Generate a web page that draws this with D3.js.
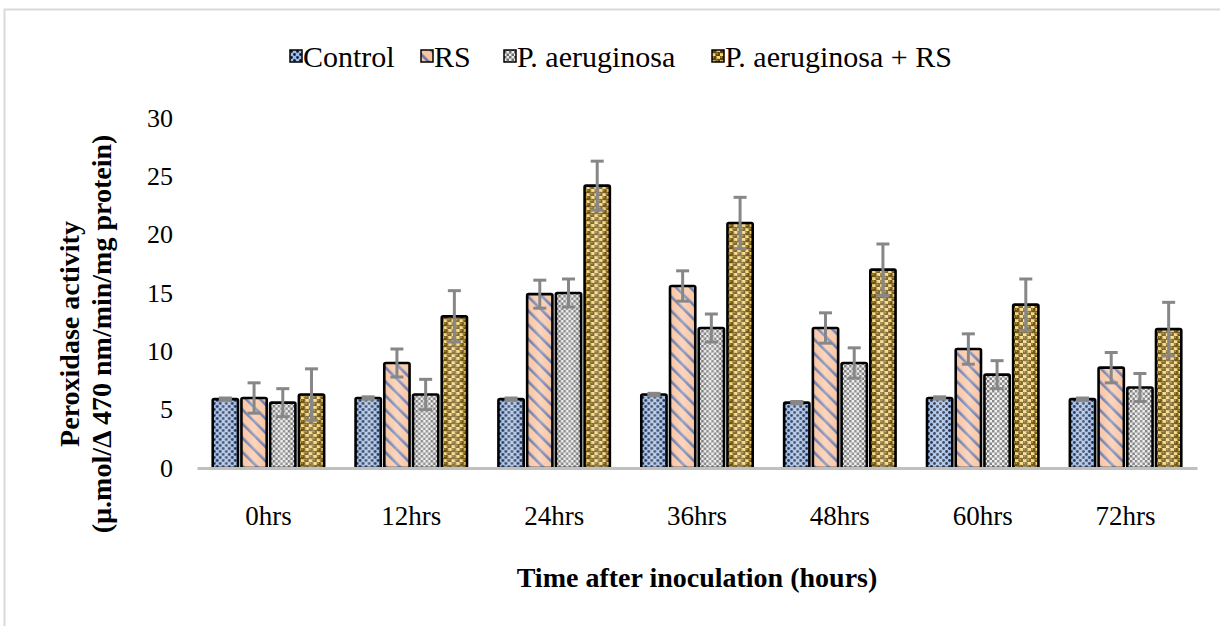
<!DOCTYPE html>
<html>
<head>
<meta charset="utf-8">
<script src="https://cdn.jsdelivr.net/npm/d3@7"></script>
<style>
  body { margin: 0; background: #fff; }
  svg text { font-family: "Liberation Serif", "Times New Roman", serif; fill: #000; }
</style>
</head>
<body>
<svg id="chart" width="1220" height="626"></svg>
<script>
// --- data ---
const categories = ["0hrs", "12hrs", "24hrs", "36hrs", "48hrs", "60hrs", "72hrs"];
const seriesNames = ["Control", "RS", "P. aeruginosa", "P. aeruginosa + RS"];

const control    = [5.9, 6.0, 5.9, 6.3, 5.6, 6.0, 5.9];
const rs         = [6.0, 9.0, 14.9, 15.6, 12.0, 10.2, 8.6];
const pa         = [5.6, 6.3, 15.0, 12.0, 9.0, 8.0, 6.9];
const paRs       = [6.3, 13.0, 24.2, 21.0, 17.0, 14.0, 11.9];

const controlErr = [0.1, 0.1, 0.1, 0.1, 0.1, 0.1, 0.1];
const rsErr      = [1.3, 1.2, 1.2, 1.3, 1.3, 1.3, 1.3];
const paErr      = [1.2, 1.3, 1.2, 1.2, 1.3, 1.2, 1.2];
const paRsErr    = [2.2, 2.2, 2.1, 2.2, 2.2, 2.2, 2.3];

const yTicks = [0, 5, 10, 15, 20, 25, 30];

const values = [control, rs, pa, paRs];
const errors = [controlErr, rsErr, paErr, paRsErr];
const patIds = ["pCtrl", "pRs", "pPa", "pPaRs"];
const serif = "Liberation Serif";

const svg = d3.select("#chart");
const defs = svg.append("defs");

// --- fill patterns ---
// control: light blue with dark dots
let p = defs.append("pattern").attr("id", "pCtrl").attr("patternUnits", "userSpaceOnUse")
  .attr("width", 6).attr("height", 6);
p.append("rect").attr("width", 6).attr("height", 6).attr("fill", "#9fbde9");
p.append("circle").attr("cx", 1.5).attr("cy", 1.5).attr("r", 1.4).attr("fill", "#15203a");
p.append("circle").attr("cx", 4.5).attr("cy", 4.5).attr("r", 1.4).attr("fill", "#15203a");

// RS: peach with blue-grey diagonal stripes
p = defs.append("pattern").attr("id", "pRs").attr("patternUnits", "userSpaceOnUse")
  .attr("width", 10).attr("height", 10).attr("patternTransform", "rotate(-45)");
p.append("rect").attr("width", 10).attr("height", 10).attr("fill", "#f8c4a2");
p.append("rect").attr("width", 2.6).attr("height", 10).attr("fill", "#6878ae");

// P. aeruginosa: grey checkerboard
p = defs.append("pattern").attr("id", "pPa").attr("patternUnits", "userSpaceOnUse")
  .attr("width", 5).attr("height", 5);
p.append("rect").attr("width", 5).attr("height", 5).attr("fill", "#ececec");
p.append("rect").attr("width", 2.5).attr("height", 2.5).attr("fill", "#6e6e6e");
p.append("rect").attr("x", 2.5).attr("y", 2.5).attr("width", 2.5).attr("height", 2.5).attr("fill", "#6e6e6e");

// P. aeruginosa + RS: gold with brown balls
p = defs.append("pattern").attr("id", "pPaRs").attr("patternUnits", "userSpaceOnUse")
  .attr("width", 8).attr("height", 7);
p.append("rect").attr("width", 8).attr("height", 7).attr("fill", "#f7d874");
[[2, 1.75], [6, 5.25]].forEach(c => {
  p.append("circle").attr("cx", c[0]).attr("cy", c[1]).attr("r", 2.6).attr("fill", "#5f4305");
  p.append("circle").attr("cx", c[0] - 0.7).attr("cy", c[1] - 0.7).attr("r", 0.9).attr("fill", "#b88f28");
});

// soft shine across each bar
const shine = defs.append("linearGradient").attr("id", "shine").attr("x1", 0).attr("x2", 1);
shine.append("stop").attr("offset", "0%").attr("stop-color", "#fff").attr("stop-opacity", 0);
shine.append("stop").attr("offset", "50%").attr("stop-color", "#fff").attr("stop-opacity", 0.3);
shine.append("stop").attr("offset", "100%").attr("stop-color", "#fff").attr("stop-opacity", 0);

// frame lines of the figure
svg.append("path").attr("d", "M4.5,626 V9.5 H1220").attr("fill", "none")
  .attr("stroke", "#d9d9d9").attr("stroke-width", 2);

// --- scales ---
const x0 = d3.scaleBand().domain(categories).range([197, 1197]).paddingInner(0.22).paddingOuter(0.11);
const x1 = d3.scaleBand().domain(d3.range(4)).range([0, x0.bandwidth()]).paddingInner(0.12);
const y = d3.scaleLinear().domain([0, 30]).range([468, 118]);

// y tick labels (no axis line)
const yAx = svg.append("g").attr("transform", "translate(173,0)")
  .call(d3.axisLeft(y).tickValues(yTicks).tickSize(0).tickPadding(0));
yAx.select(".domain").remove();
yAx.selectAll("text").attr("font-size", 26).attr("font-family", serif).attr("fill", "#000");

// bars
const groups = svg.append("g").selectAll("g").data(categories).join("g")
  .attr("transform", d => `translate(${x0(d)},0)`);

groups.each(function(cat, ci) {
  const g = d3.select(this);
  values.forEach((vals, si) => {
    const v = vals[ci];
    const bx = x1(si), bw = x1.bandwidth();
    g.append("rect").attr("x", bx).attr("y", y(v)).attr("width", bw).attr("height", y(0) - y(v))
      .attr("fill", `url(#${patIds[si]})`);
    g.append("rect").attr("x", bx).attr("y", y(v)).attr("width", bw).attr("height", y(0) - y(v))
      .attr("fill", "url(#shine)").attr("stroke", "#000").attr("stroke-width", 2.6)
      .attr("rx", 1.5);
  });
});

// x axis line and category labels
svg.append("g").attr("transform", `translate(0,${y(0)})`)
  .call(d3.axisBottom(x0).tickSize(0).tickPadding(38))
  .call(a => a.select(".domain").attr("stroke", "#c0c0c0").attr("stroke-width", 3))
  .selectAll("text").attr("font-size", 27).attr("font-family", serif).attr("fill", "#000");

// error bars
groups.each(function(cat, ci) {
  const g = d3.select(this);
  values.forEach((vals, si) => {
    const v = vals[ci], e = errors[si][ci];
    const cx = x1(si) + x1.bandwidth() / 2;
    const eb = g.append("g").attr("stroke", "#878787").attr("stroke-width", 3);
    eb.append("line").attr("x1", cx).attr("x2", cx).attr("y1", y(v - e)).attr("y2", y(v + e));
    eb.append("line").attr("x1", cx - 6.5).attr("x2", cx + 6.5).attr("y1", y(v + e)).attr("y2", y(v + e));
    eb.append("line").attr("x1", cx - 6.5).attr("x2", cx + 6.5).attr("y1", y(v - e)).attr("y2", y(v - e));
  });
});

// legend
const legendX = [290, 421, 504, 712];
const leg = svg.append("g").selectAll("g").data(seriesNames).join("g")
  .attr("transform", (d, i) => `translate(${legendX[i]},56)`);
leg.append("rect").attr("x", 0).attr("y", -6).attr("width", 12).attr("height", 12)
  .attr("fill", (d, i) => `url(#${patIds[i]})`).attr("stroke", "#000").attr("stroke-width", 1.5);
leg.append("text").attr("x", 13).attr("dy", "0.35em").attr("font-size", 30)
  .attr("font-family", serif).text(d => d);

// axis titles
svg.append("text").attr("x", 697).attr("y", 587).attr("text-anchor", "middle")
  .attr("font-family", serif).attr("font-size", 28).attr("font-weight", "bold")
  .text("Time after inoculation (hours)");

const yt = svg.append("text").attr("transform", "translate(79,334) rotate(-90)")
  .attr("text-anchor", "middle").attr("font-family", serif)
  .attr("font-size", 28).attr("font-weight", "bold");
yt.append("tspan").attr("x", 0).attr("dy", 0).text("Peroxidase activity");
yt.append("tspan").attr("x", 0).attr("dy", 32).text("(µ.mol/Δ 470 nm/min/mg protein)");
</script>
</body>
</html>
